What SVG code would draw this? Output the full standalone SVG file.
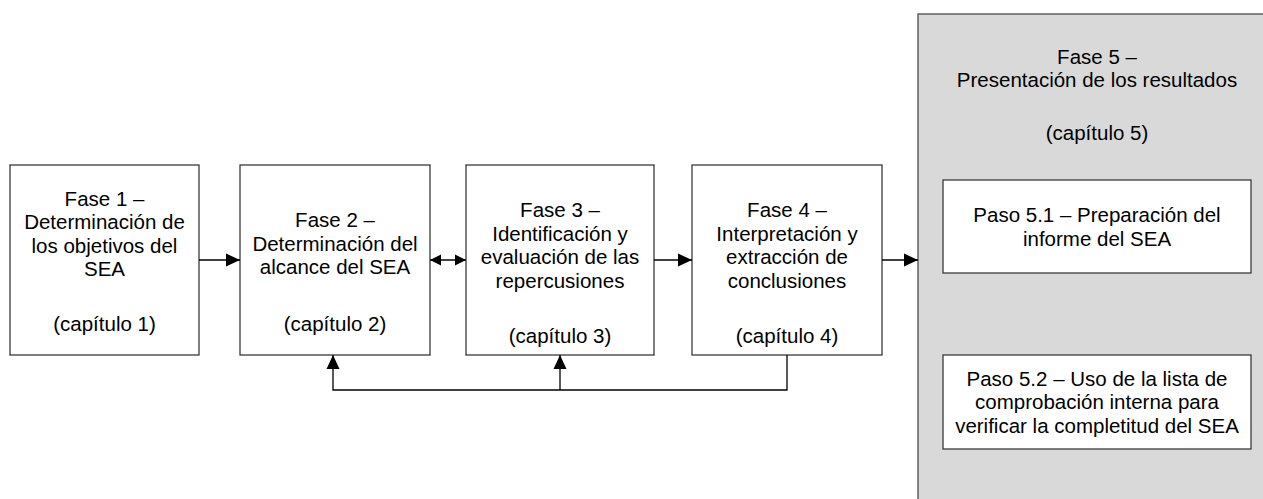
<svg xmlns="http://www.w3.org/2000/svg" width="1263" height="499" viewBox="0 0 1263 499">
  <style>
    .box { fill: #ffffff; stroke: #3a3a3a; stroke-width: 1.3; }
    .phase5 { fill: #d9d9d9; stroke: #4a4a4a; stroke-width: 1.3; }
    .lbl { font-family: "Liberation Sans", Arial, sans-serif; font-size: 20.5px; fill: #000; text-anchor: middle; }
    .wire { fill: none; stroke: #000; stroke-width: 1.3; }
  </style>
  <defs>
    <marker id="head" viewBox="0 0 14 14" refX="14" refY="7" markerWidth="14" markerHeight="14" markerUnits="userSpaceOnUse" orient="auto-start-reverse">
      <path d="M0,0.5 L14,7 L0,13.5 z" fill="#000"/>
    </marker>
    <marker id="headSmall" viewBox="0 0 11 12" refX="11" refY="6" markerWidth="11" markerHeight="12" markerUnits="userSpaceOnUse" orient="auto-start-reverse">
      <path d="M0,0.5 L11,6 L0,11.5 z" fill="#000"/>
    </marker>
  </defs>

  <rect width="1263" height="499" fill="#ffffff"/>

  <!-- Phase 5 container with its two steps -->
  <g id="fase5">
    <rect class="phase5" x="918" y="14" width="360" height="500"/>
    <text class="lbl" x="1097" y="63.5">Fase 5 –</text>
    <text class="lbl" x="1097" y="87">Presentación de los resultados</text>
    <text class="lbl" x="1097" y="140">(capítulo 5)</text>
  </g>
  <g id="paso51">
    <rect class="box" x="943" y="180" width="308" height="93"/>
    <text class="lbl" x="1097" y="222">Paso 5.1 – Preparación del</text>
    <text class="lbl" x="1097" y="245.5">informe del SEA</text>
  </g>
  <g id="paso52">
    <rect class="box" x="943" y="355" width="308" height="94"/>
    <text class="lbl" x="1097" y="385.5">Paso 5.2 – Uso de la lista de</text>
    <text class="lbl" x="1097" y="409">comprobación interna para</text>
    <text class="lbl" x="1097" y="432.5">verificar la completitud del SEA</text>
  </g>

  <g id="fase1">
    <rect class="box" x="10" y="165" width="189" height="190"/>
    <text class="lbl" x="104.5" y="205.5">Fase 1 –</text>
    <text class="lbl" x="104.5" y="229">Determinación de</text>
    <text class="lbl" x="104.5" y="252.5">los objetivos del</text>
    <text class="lbl" x="104.5" y="276">SEA</text>
    <text class="lbl" x="104.5" y="331">(capítulo 1)</text>
  </g>
  <g id="fase2">
    <rect class="box" x="240" y="165" width="190" height="190"/>
    <text class="lbl" x="335" y="227">Fase 2 –</text>
    <text class="lbl" x="335" y="250.5">Determinación del</text>
    <text class="lbl" x="335" y="274">alcance del SEA</text>
    <text class="lbl" x="335" y="331">(capítulo 2)</text>
  </g>
  <g id="fase3">
    <rect class="box" x="466" y="165" width="188" height="190"/>
    <text class="lbl" x="560" y="217">Fase 3 –</text>
    <text class="lbl" x="560" y="240.5">Identificación y</text>
    <text class="lbl" x="560" y="264">evaluación de las</text>
    <text class="lbl" x="560" y="287.5">repercusiones</text>
    <text class="lbl" x="560" y="343">(capítulo 3)</text>
  </g>
  <g id="fase4">
    <rect class="box" x="692" y="165" width="190" height="190"/>
    <text class="lbl" x="787" y="217">Fase 4 –</text>
    <text class="lbl" x="787" y="240.5">Interpretación y</text>
    <text class="lbl" x="787" y="264">extracción de</text>
    <text class="lbl" x="787" y="287.5">conclusiones</text>
    <text class="lbl" x="787" y="343">(capítulo 4)</text>
  </g>

  <!-- Connectors -->
  <g id="connectors">
    <path class="wire" d="M199,260 H240" marker-end="url(#head)"/>
    <path class="wire" d="M430,260 H466" marker-start="url(#headSmall)" marker-end="url(#headSmall)"/>
    <path class="wire" d="M654,260 H692" marker-end="url(#head)"/>
    <path class="wire" d="M882,260 H918" marker-end="url(#head)"/>
    <!-- feedback loop from phase 4 back to phases 2 and 3 -->
    <path class="wire" d="M787,355 V390 H333 V355" marker-end="url(#head)"/>
    <path class="wire" d="M560,390 V355" marker-end="url(#head)"/>
  </g>
</svg>
